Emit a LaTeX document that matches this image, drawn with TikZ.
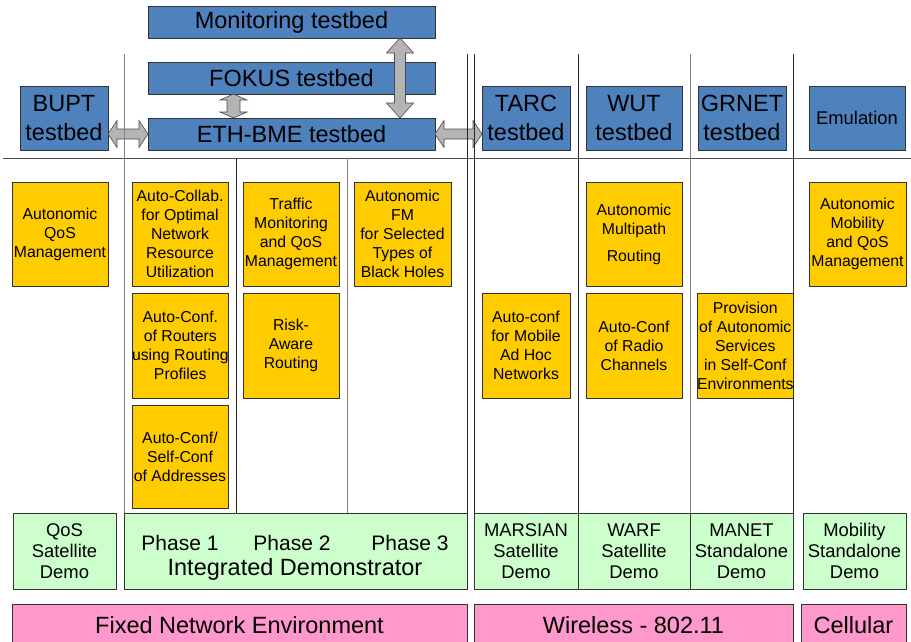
\documentclass[tikz,border=0pt]{standalone}
\usepackage{fontspec}
\setmainfont{Liberation Sans}
\usepackage{tikz}
\usetikzlibrary{calc}
\definecolor{tbblue}{RGB}{79, 129, 189}
\definecolor{wpyellow}{RGB}{255, 204, 0}
\definecolor{demogreen}{RGB}{204, 255, 204}
\definecolor{envpink}{RGB}{255, 153, 204}
\definecolor{arrowgray}{RGB}{180, 180, 180}
\newcommand{\bigfont}{\fontsize{23.5}{28.5}\selectfont}
\newcommand{\midfont}{\fontsize{18.4}{21}\selectfont}
\newcommand{\smallfont}{\fontsize{15.8}{19}\selectfont}
% horizontal double block arrow between two points
\newcommand{\hbiarrow}[2]{%
  \draw[biarrow] let \p1=(#1), \p2=(#2) in
    (\x1,\y1) -- (\x1+9pt,\y1+13.5pt) -- (\x1+9pt,\y1+5pt) -- (\x2-9pt,\y1+5pt)
    -- (\x2-9pt,\y1+13.5pt) -- (\x2,\y1) -- (\x2-9pt,\y1-13.5pt) -- (\x2-9pt,\y1-5pt)
    -- (\x1+9pt,\y1-5pt) -- (\x1+9pt,\y1-13.5pt) -- cycle;}
% vertical double block arrow: top, bottom, head length, shaft half width
\newcommand{\vbiarrow}[4]{%
  \draw[biarrow] let \p1=(#1), \p2=(#2) in
    (\x1,\y1) -- (\x1+13.5pt,\y1-#3) -- (\x1+#4,\y1-#3) -- (\x1+#4,\y2+#3)
    -- (\x1+13.5pt,\y2+#3) -- (\x1,\y2) -- (\x1-13.5pt,\y2+#3) -- (\x1-#4,\y2+#3)
    -- (\x1-#4,\y1-#3) -- (\x1-13.5pt,\y1-#3) -- cycle;}
\tikzset{
  box/.style={draw=black!80, line width=0.7pt, inner sep=0pt, outer sep=0pt,
    anchor=north west, align=center},
  testbed/.style={box, fill=tbblue, font=\bigfont},
  work/.style={box, fill=wpyellow, font=\smallfont},
  demo/.style={box, fill=demogreen, font=\midfont},
  env/.style={box, fill=envpink, font=\bigfont},
  biarrow/.style={fill=arrowgray, draw=black!70, line width=0.6pt},
  divider/.style={line width=0.8pt, black!85},
  softdivider/.style={line width=0.8pt, black!50}
}

\begin{document}
\begin{tikzpicture}[x=1pt,y=-1pt]
\useasboundingbox (0,0) rectangle (911,642);

% header line
\draw[softdivider, black!70] (3,158) -- (911,158);

% Testbeds
\node[testbed, minimum width=287, minimum height=32] (mon) at (148,6) {Monitoring testbed};
\node[testbed, minimum width=287, minimum height=32] (fokus) at (148,62) {FOKUS testbed};
\node[testbed, minimum width=287, minimum height=32] (eth) at (148,118) {ETH-BME testbed};
\node[testbed, minimum width=88, minimum height=64] (bupt) at (20,86) {BUPT\\testbed};
\node[testbed, minimum width=88, minimum height=64] (tarc) at (482,86) {TARC\\testbed};
\node[testbed, minimum width=96, minimum height=64] (wut) at (586,86) {WUT\\testbed};
\node[testbed, minimum width=88, minimum height=64] (grnet) at (698,86) {GRNET\\testbed};
\node[testbed, minimum width=96, minimum height=64, font=\midfont] (emul) at (809,86) {Emulation};

% Work packages
\node[work, minimum width=96, minimum height=104] (aqos) at (12,182) {Autonomic\\QoS\\Management};
\node[work, minimum width=96, minimum height=104] (collab) at (132,182) {Auto-Collab.\\for Optimal\\Network\\Resource\\Utilization};
\node[work, minimum width=96, minimum height=104] (traffic) at (243,182) {Traffic\\Monitoring\\and QoS\\Management};
\node[work, minimum width=97, minimum height=104] (fm) at (354,182) {Autonomic\\FM\\for Selected\\Types of\\Black Holes};
\node[work, minimum width=96, minimum height=105] (routers) at (132,293) {Auto-Conf.\\of Routers\\using Routing\\Profiles};
\node[work, minimum width=96, minimum height=105] (risk) at (243,293) {Risk-\\Aware\\Routing};
\node[work, minimum width=96, minimum height=103] (addr) at (132,405) {Auto-Conf/\\Self-Conf\\of Addresses};
\node[work, minimum width=88, minimum height=105] (mobile) at (482,293) {Auto-conf\\for Mobile\\Ad Hoc\\Networks};
\node[work, minimum width=96, minimum height=104] (multipath) at (586,182) {Autonomic\\Multipath\\[8pt]Routing};
\node[work, minimum width=96, minimum height=105] (radio) at (586,293) {Auto-Conf\\of Radio\\Channels};
\node[work, minimum width=89, minimum height=105] (provision) at (697,293) {Provision\\of Autonomic\\Services\\in Self-Conf\\Environments};
\node[work, minimum width=97, minimum height=104] (mobility) at (809,182) {Autonomic\\Mobility\\and QoS\\Management};

% Demonstrators
\node[demo, minimum width=103, minimum height=76] (qosdemo) at (13,513) {QoS\\Satellite\\Demo};
\node[demo, minimum width=343, minimum height=76] (integ) at (124,513) {};
\node[font=\fontsize{21}{25}\selectfont] (ph1) at (180,543) {Phase 1};
\node[font=\fontsize{21}{25}\selectfont] (ph2) at (292,543) {Phase 2};
\node[font=\fontsize{21}{25}\selectfont] (ph3) at (410,543) {Phase 3};
\node[font=\bigfont] (integlabel) at (295,569) {Integrated Demonstrator};
\node[demo, minimum width=104, minimum height=76] (marsian) at (474,513) {MARSIAN\\Satellite\\Demo};
\node[demo, minimum width=112, minimum height=76] (warf) at (578,513) {WARF\\Satellite\\Demo};
\node[demo, minimum width=103, minimum height=76] (manet) at (690,513) {MANET\\Standalone\\Demo};
\node[demo, minimum width=103, minimum height=76] (mobdemo) at (803,513) {Mobility\\Standalone\\Demo};

% Environments
\node[env, minimum width=455, minimum height=42] (fixed) at (12,604) {Fixed Network Environment};
\node[env, minimum width=319, minimum height=42] (wireless) at (474,604) {Wireless - 802.11};
\node[env, minimum width=105, minimum height=42] (cellular) at (801,604) {Cellular};

% Testbed links
\hbiarrow{bupt.east |- eth.west}{eth.west}
\hbiarrow{eth.east}{tarc.west |- eth.east}
\vbiarrow{[xshift=-35pt]mon.south east}{[xshift=-35pt]eth.north east}{15pt}{5.5pt}
\vbiarrow{[xshift=85.5pt]fokus.south west}{[xshift=85.5pt]eth.north west}{6pt}{6.5pt}

% Column dividers
\draw[softdivider] (124,54) -- (124,513);
\draw[divider] (236,158) -- (236,513);
\draw[softdivider] (347,158) -- (347,513);
\draw[divider] (467,54) -- (467,513);
\draw[divider] (474,54) -- (474,513);
\draw[divider] (578,54) -- (578,513);
\draw[softdivider] (690,54) -- (690,513);
\draw[divider] (793,54) -- (793,513);
\end{tikzpicture}
\end{document}
